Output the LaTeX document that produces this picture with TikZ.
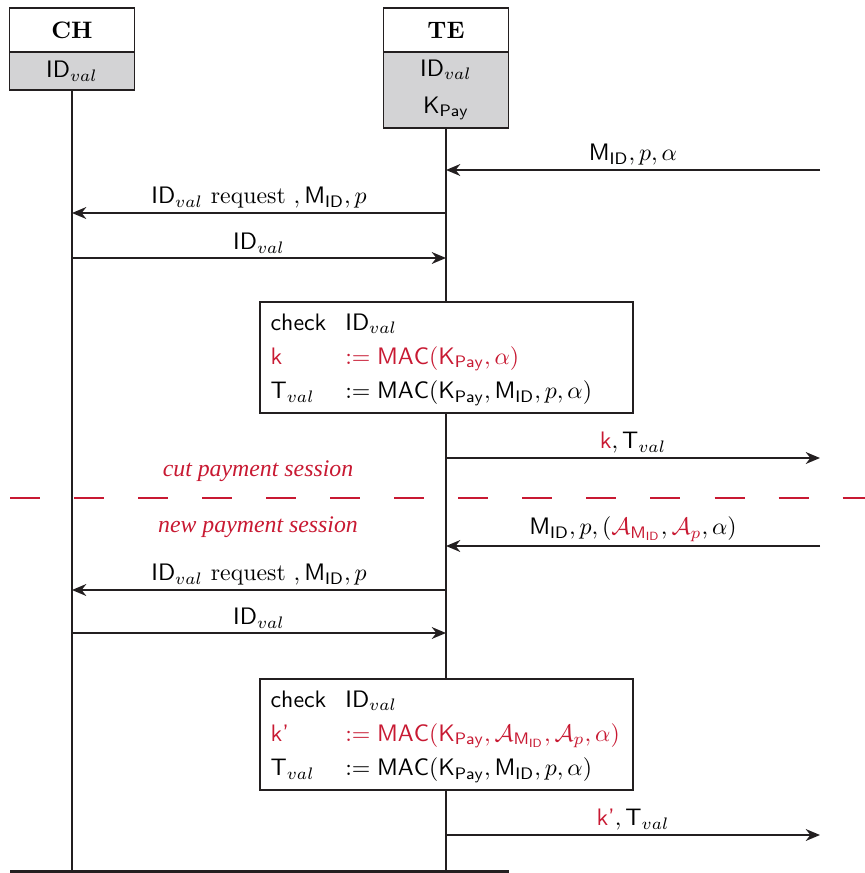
\documentclass[tikz,border=0pt]{standalone}
\usepackage{amsmath,amssymb}
\usepackage{fontspec}
\newfontfamily\cutfont{Liberation Serif}
\usepackage{xcolor}
\definecolor{ColR}{RGB}{200,25,50}
\definecolor{ColG}{RGB}{211,211,213}
\definecolor{ColK}{RGB}{35,31,32}
\usepackage{tikz}
\usetikzlibrary{arrows.meta}
\newcommand{\IDval}{\mathsf{ID}_{val}}
\newcommand{\MID}{\mathsf{M}_{\mathsf{ID}}}
\newcommand{\KPay}{\mathsf{K}_{\mathsf{Pay}}}
\newcommand{\Tval}{\mathsf{T}_{val}}
\newcommand{\MACf}{\mathsf{MAC}}
\tikzstyle{Head}=[draw=ColK,fill=white,line width=0.75pt,minimum width=52.5pt,
minimum height=18.5pt,font=\bfseries,inner sep=0pt,outer sep=0pt]
\tikzstyle{Attr}=[draw=ColK,fill=ColG,line width=0.75pt,minimum width=52.5pt,
inner sep=0pt,outer sep=0pt,align=center]
\tikzstyle{Life}=[draw=ColK,line width=0.8pt]
\tikzstyle{Msg}=[draw=ColK,line width=0.8pt,-{Stealth[length=6pt,width=5pt]}]
\tikzstyle{MsgLabel}=[above,midway,inner sep=1.5pt]
\tikzstyle{CalcBox}=[draw=ColK,fill=white,line width=0.8pt,text width=147.7pt,
minimum height=46.6pt,inner xsep=4.5pt,inner ysep=1.5pt,align=left]
\tikzstyle{Cut}=[draw=ColR,line width=0.6pt,dash pattern=on 12.6pt off 14.3pt]
\tikzstyle{CutLabel}=[text=ColR,font=\cutfont\itshape]
\renewcommand{\arraystretch}{1.2}
\begin{document}
\begin{tikzpicture}[x=0.42pt,y=-0.42pt]
        \useasboundingbox (0,0) rectangle (865,873);
        % parties
        \node[Head](CH)at(72,30){CH};
        \node[Attr,anchor=north,minimum height=16pt](CHattr)at(CH.south){$\IDval$};
        \node[Head](TE)at(446,30){TE};
        \node[Attr,anchor=north,minimum height=31.9pt](TEattr)at(TE.south)
            {$\IDval$\\[3.5pt]$\KPay$};
        \coordinate(CHend)at(72,872);
        \coordinate(TEend)at(446,872);
        \coordinate(Lleft)at(10,872);
        \coordinate(Lright)at(509,872);
        \draw[Life](CHattr.south)--(CHend);
        \draw[Life](TEattr.south)--(TEend);
        \draw[Life,line width=1.4pt](Lleft)--(Lright);
        % first session
        \coordinate(Ext1)at(820,170);
        \coordinate(TE1)at(446,170);
        \coordinate(TE2)at(446,213);
        \coordinate(CH2)at(72,213);
        \coordinate(CH3)at(72,258);
        \coordinate(TE3)at(446,258);
        \coordinate(TE4)at(446,458);
        \coordinate(Ext4)at(820,458);
        \draw[Msg](Ext1)--(TE1)node[MsgLabel]{$\MID, p, \alpha$};
        \draw[Msg](TE2)--(CH2)node[MsgLabel]{$\IDval$ request $, \MID, p$};
        \draw[Msg](CH3)--(TE3)node[MsgLabel]{$\IDval$};
        \node[CalcBox](Calc1)at(446.5,357.5){%
            \begin{tabular}{@{}l@{\hspace{8pt}}l@{}}
            \textsf{check} & $\IDval$\\
            \color{ColR}\textsf{k} & \color{ColR}$:= \MACf(\KPay, \alpha)$\\
            $\Tval$ & $:= \MACf(\KPay, \MID, p, \alpha)$
            \end{tabular}};
        \draw[Msg](TE4)--(Ext4)node[MsgLabel]{${\color{ColR}\mathsf{k}}, \Tval$};
        % session cut
        \node[CutLabel](CutTxt)at(258,471){cut payment session};
        \coordinate(CutL)at(10,498);
        \coordinate(CutR)at(865,498);
        \draw[Cut](CutL)--(CutR);
        \node[CutLabel](NewTxt)at(258,527){new payment session};
        % second session
        \coordinate(Ext5)at(820,546);
        \coordinate(TE5)at(446,546);
        \coordinate(TE6)at(446,590);
        \coordinate(CH6)at(72,590);
        \coordinate(CH7)at(72,633);
        \coordinate(TE7)at(446,633);
        \coordinate(TE8)at(446,835);
        \coordinate(Ext8)at(820,835);
        \draw[Msg](Ext5)--(TE5)node[MsgLabel]
            {$\MID, p, ({\color{ColR}\mathcal{A}_{\MID}}, {\color{ColR}\mathcal{A}_p}, \alpha)$};
        \draw[Msg](TE6)--(CH6)node[MsgLabel]{$\IDval$ request $, \MID, p$};
        \draw[Msg](CH7)--(TE7)node[MsgLabel]{$\IDval$};
        \node[CalcBox](Calc2)at(446.5,734.5){%
            \begin{tabular}{@{}l@{\hspace{8pt}}l@{}}
            \textsf{check} & $\IDval$\\
            \color{ColR}\textsf{k'} & \color{ColR}$:= \MACf(\KPay, \mathcal{A}_{\MID}, \mathcal{A}_p, \alpha)$\\
            $\Tval$ & $:= \MACf(\KPay, \MID, p, \alpha)$
            \end{tabular}};
        \draw[Msg](TE8)--(Ext8)node[MsgLabel]{{\color{ColR}\textsf{k'}}$, \Tval$};
    \end{tikzpicture}
\end{document}
